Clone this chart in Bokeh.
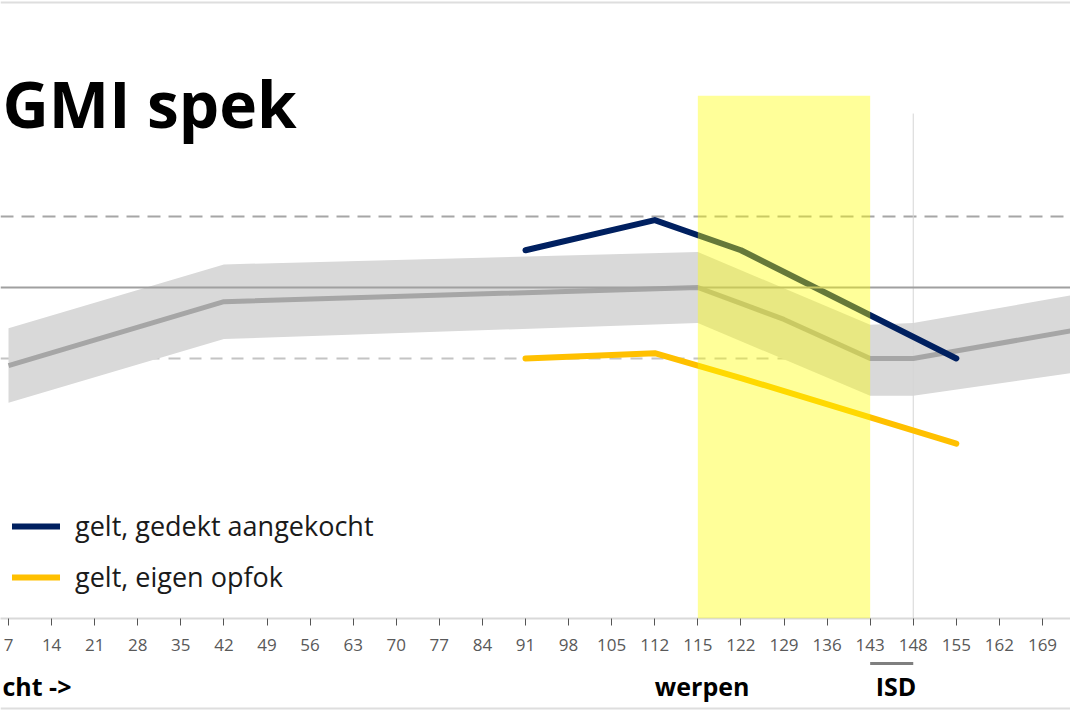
from bokeh.plotting import figure
from bokeh.layouts import column
from bokeh.models import (Range1d, FixedTicker, Span, BoxAnnotation, Label,
                          Legend, LegendItem, ColumnDataSource)
from bokeh.core.properties import value
from bokeh.embed import file_html
from bokeh.resources import INLINE

# ---------------- data ----------------
days = ["7", "14", "21", "28", "35", "42", "49", "56", "63", "70", "77", "84",
        "91", "98", "105", "112", "115", "122", "129", "136", "143", "148",
        "155", "162", "169", "176"]

ref_target = 16.0
ref_high = 20.0
ref_low = 12.0

avg_days = ["7", "42", "115", "122", "129", "136", "143", "148", "176"]
avg_gmi = [11.6, 15.2, 16.0, 15.1, 14.2, 13.1, 12.0, 12.0, 13.7]

band_days = ["7", "42", "115", "143", "148", "176"]
band_upper = [13.7, 17.3, 18.0, 13.9, 14.0, 15.7]
band_lower = [9.5, 13.1, 14.0, 9.9, 9.9, 11.3]

meet_days = ["91", "112", "122", "155"]
gedekt_aangekocht = [18.1, 19.8, 18.1, 12.0]
eigen_opfok = [12.0, 12.3, 10.9, 7.2]

werpen_start, werpen_end = "115", "143"
isd_start, isd_end = "143", "148"

title_text = "GMI spek"
label_left = "cht ->"
label_werpen = "werpen"
label_isd = "ISD"
name_blue = "gelt, gedekt aangekocht"
name_orange = "gelt, eigen opfok"

# ---------------- main figure ----------------
idx = {d: i for i, d in enumerate(days)}
Y0, Y1 = -2.65, 32.17
XR = Range1d(-0.186, 24.65)
H1 = 660

p = figure(width=1070, height=H1, x_range=XR, y_range=Range1d(Y0, Y1),
           output_backend="svg", toolbar_location=None, y_axis_location=None,
           min_border_left=0, min_border_right=0, min_border_top=0, min_border_bottom=42)
p.outline_line_color = None
p.xgrid.visible = False
p.ygrid.visible = False

# image border line at top
p.add_layout(Span(location=32.06, dimension="width", line_color="#dedede", line_width=2))

# reference lines
p.add_layout(Span(location=ref_high, dimension="width", line_color="#a6a6a6",
                  line_width=2, line_dash="13 8", level="underlay"))
p.add_layout(Span(location=ref_low, dimension="width", line_color="#c4c4c4",
                  line_width=2, line_dash="12 9", level="underlay"))

# band
band_src = ColumnDataSource(dict(x=[idx[d] for d in band_days], y1=band_lower, y2=band_upper))
p.varea(x="x", y1="y1", y2="y2", source=band_src, fill_color="#d9d9d9")

p.add_layout(Span(location=ref_target, dimension="width", line_color="#a0a0a0",
                  line_width=2, level="guide"))

# vertical marker at ISD end
p.segment(x0=[idx[isd_end]], y0=[Y0], x1=[idx[isd_end]], y1=[25.8],
          line_color="#d6d6d6", line_width=1)

# average line
p.line([idx[d] for d in avg_days], avg_gmi, line_color="#a6a6a6", line_width=5,
       line_join="round")

mx = [idx[d] for d in meet_days]
r_blue = p.line(mx, gedekt_aangekocht, line_color="#002060", line_width=6,
                line_join="round", line_cap="round")
r_orange = p.line(mx, eigen_opfok, line_color="#ffc000", line_width=6,
                  line_join="round", line_cap="round")

# werpen period
p.add_layout(BoxAnnotation(left=idx[werpen_start], right=idx[werpen_end], top=26.8,
                           fill_color="#ffff00", fill_alpha=0.4, line_color=None))

# axis
ax = p.xaxis[0]
ax.ticker = FixedTicker(ticks=list(range(len(days))))
ax.major_label_overrides = {i: d for i, d in enumerate(days)}
ax.axis_line_color = "#d9d9d9"
ax.axis_line_width = 2
ax.major_tick_in = 0
ax.major_tick_out = 7
ax.major_tick_line_color = "#555555"
ax.minor_tick_line_color = None
ax.major_label_text_font = "Open Sans"
ax.major_label_text_font_size = "17px"
ax.major_label_text_color = "#595959"
ax.major_label_standoff = 13

# title
p.add_layout(Label(x=-0.14, y=26.37, text=title_text, text_font="Open Sans",
                   text_font_size="64px", text_font_style="bold", text_color="black",
                   text_baseline="alphabetic", text_align="left"))

legend = Legend(items=[LegendItem(label=name_blue, renderers=[r_blue]),
                       LegendItem(label=name_orange, renderers=[r_orange])],
                location=(12, 23), label_text_font="Open Sans", label_text_font_size="27px",
                label_text_color="#1a1a1a", glyph_width=48, glyph_height=36,
                label_height=36, label_standoff=15, spacing=14, padding=0, margin=0,
                border_line_color=None, background_fill_alpha=0)
p.add_layout(legend)

# ---------------- strip below the axis ----------------
H2 = 713 - H1
p2 = figure(width=1070, height=H2, x_range=XR, y_range=Range1d(0, H2),
            output_backend="svg", toolbar_location=None,
            x_axis_location=None, y_axis_location=None,
            min_border_left=0, min_border_right=0, min_border_top=0, min_border_bottom=0)
p2.outline_line_color = None
p2.xgrid.visible = False
p2.ygrid.visible = False

p2.text(x=[-0.14], y=[28], text=[label_left], text_font=value("Open Sans"),
        text_font_size="25px", text_font_style="bold", text_color="black",
        text_baseline="alphabetic", text_align="left")
p2.text(x=[16.1, 20.6], y=[28, 28], text=[label_werpen, label_isd],
        text_font=value("Open Sans"), text_font_size="25px", text_font_style="bold",
        text_color="black", text_baseline="alphabetic", text_align="center")
# ISD interval bar
p2.line([idx[isd_start], idx[isd_end]], [50, 50], line_color="#7f7f7f", line_width=3)
# image border line at bottom
p2.add_layout(Span(location=5, dimension="width", line_color="#dedede", line_width=2))

layout = column(p, p2, spacing=0)
open("out.html", "w").write(file_html(layout, INLINE))
